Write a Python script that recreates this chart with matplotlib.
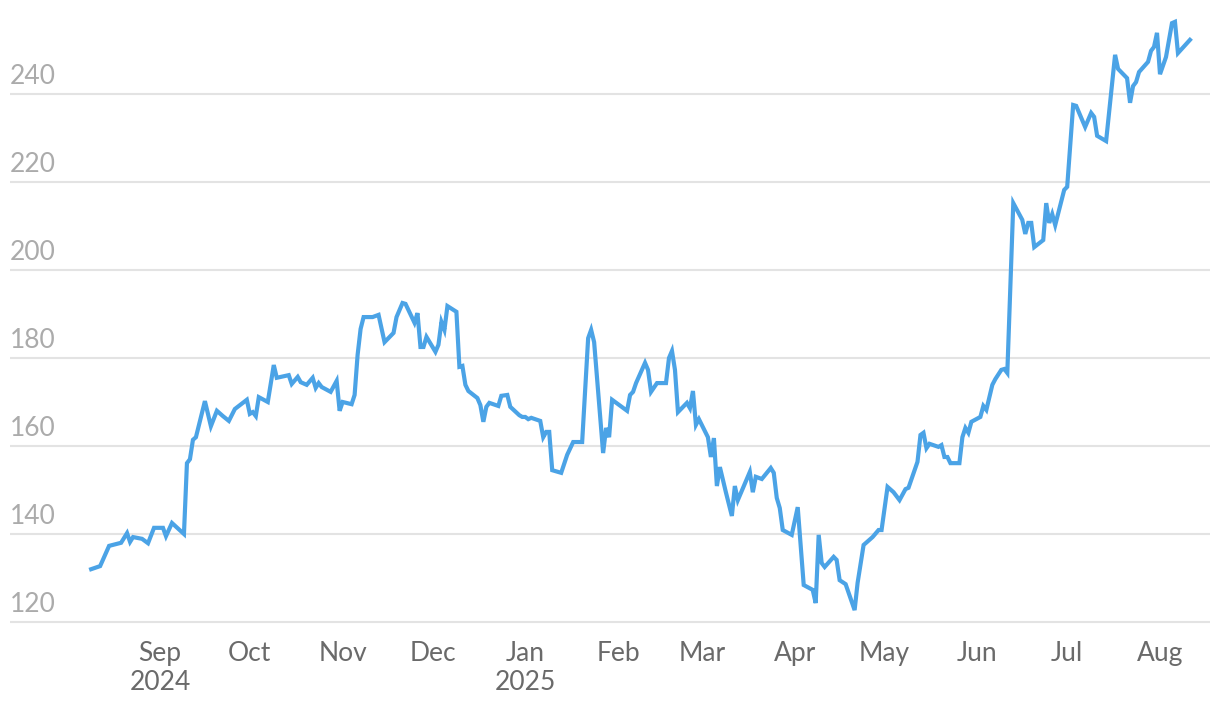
import pandas as pd
import matplotlib.pyplot as plt
import matplotlib.dates as mdates

# daily closing price, Aug 2024 - Aug 2025
dates = [
    '2024-08-09', '2024-08-12', '2024-08-15', '2024-08-19', '2024-08-21', '2024-08-22',
    '2024-08-23', '2024-08-26', '2024-08-28', '2024-08-30', '2024-09-02', '2024-09-03',
    '2024-09-05', '2024-09-09', '2024-09-10', '2024-09-11', '2024-09-12', '2024-09-13',
    '2024-09-16', '2024-09-18', '2024-09-20', '2024-09-22', '2024-09-24', '2024-09-26',
    '2024-09-30', '2024-10-01', '2024-10-02', '2024-10-03', '2024-10-04', '2024-10-07',
    '2024-10-09', '2024-10-10', '2024-10-14', '2024-10-15', '2024-10-17', '2024-10-18',
    '2024-10-20', '2024-10-22', '2024-10-23', '2024-10-24', '2024-10-25', '2024-10-28',
    '2024-10-30', '2024-10-31', '2024-11-01', '2024-11-04', '2024-11-05', '2024-11-06',
    '2024-11-07', '2024-11-08', '2024-11-11', '2024-11-13', '2024-11-15', '2024-11-18',
    '2024-11-19', '2024-11-21', '2024-11-22', '2024-11-25', '2024-11-26', '2024-11-27',
    '2024-11-28', '2024-11-29', '2024-12-02', '2024-12-03', '2024-12-04', '2024-12-05',
    '2024-12-06', '2024-12-09', '2024-12-10', '2024-12-11', '2024-12-12', '2024-12-13',
    '2024-12-16', '2024-12-17', '2024-12-18', '2024-12-19', '2024-12-20', '2024-12-23',
    '2024-12-24', '2024-12-26', '2024-12-27', '2024-12-30', '2024-12-31', '2025-01-01',
    '2025-01-02', '2025-01-03', '2025-01-06', '2025-01-07', '2025-01-08', '2025-01-09',
    '2025-01-10', '2025-01-13', '2025-01-15', '2025-01-17', '2025-01-20', '2025-01-22',
    '2025-01-23', '2025-01-24', '2025-01-27', '2025-01-28', '2025-01-29', '2025-01-30',
    '2025-02-04', '2025-02-05', '2025-02-06', '2025-02-07', '2025-02-10', '2025-02-11',
    '2025-02-12', '2025-02-14', '2025-02-17', '2025-02-18', '2025-02-19', '2025-02-20',
    '2025-02-21', '2025-02-24', '2025-02-25', '2025-02-26', '2025-02-27', '2025-02-28',
    '2025-03-03', '2025-03-04', '2025-03-05', '2025-03-06', '2025-03-07', '2025-03-09',
    '2025-03-11', '2025-03-12', '2025-03-13', '2025-03-17', '2025-03-18', '2025-03-19',
    '2025-03-21', '2025-03-24', '2025-03-25', '2025-03-26', '2025-03-27', '2025-03-28',
    '2025-03-31', '2025-04-02', '2025-04-04', '2025-04-07', '2025-04-08', '2025-04-09',
    '2025-04-10', '2025-04-11', '2025-04-14', '2025-04-15', '2025-04-16', '2025-04-18',
    '2025-04-21', '2025-04-22', '2025-04-24', '2025-04-27', '2025-04-29', '2025-04-30',
    '2025-05-02', '2025-05-04', '2025-05-06', '2025-05-08', '2025-05-09', '2025-05-12',
    '2025-05-13', '2025-05-14', '2025-05-15', '2025-05-16', '2025-05-19', '2025-05-20',
    '2025-05-21', '2025-05-22', '2025-05-23', '2025-05-26', '2025-05-27', '2025-05-28',
    '2025-05-29', '2025-05-30', '2025-06-02', '2025-06-03', '2025-06-04', '2025-06-06',
    '2025-06-07', '2025-06-09', '2025-06-10', '2025-06-11', '2025-06-13', '2025-06-16',
    '2025-06-17', '2025-06-18', '2025-06-19', '2025-06-20', '2025-06-23', '2025-06-24',
    '2025-06-25', '2025-06-26', '2025-06-27', '2025-06-30', '2025-07-01', '2025-07-03',
    '2025-07-04', '2025-07-07', '2025-07-09', '2025-07-10', '2025-07-11', '2025-07-14',
    '2025-07-17', '2025-07-18', '2025-07-21', '2025-07-22', '2025-07-23', '2025-07-24',
    '2025-07-25', '2025-07-28', '2025-07-29', '2025-07-30', '2025-07-31', '2025-08-01',
    '2025-08-03', '2025-08-05', '2025-08-06', '2025-08-07', '2025-08-11',
]
prices = [
    132.0, 132.7, 137.3, 138.0, 140.2, 138.2,
    139.3, 138.9, 137.9, 141.4, 141.4, 139.5,
    142.5, 140.0, 156.1, 157.0, 161.4, 162.0,
    170.2, 164.5, 168.0, 166.8, 165.7, 168.4,
    170.5, 167.3, 167.7, 166.8, 171.1, 170.0,
    178.4, 175.5, 176.1, 174.1, 175.7, 174.5,
    173.9, 175.5, 173.2, 174.3, 173.4, 172.3,
    174.8, 168.0, 170.0, 169.5, 171.6, 180.7,
    186.6, 189.3, 189.3, 189.8, 183.6, 185.7,
    189.3, 192.5, 192.3, 188.0, 190.2, 182.5,
    182.5, 184.8, 181.4, 183.0, 188.2, 186.4,
    191.8, 190.5, 178.0, 178.2, 173.9, 172.5,
    170.9, 169.3, 165.5, 168.9, 169.8, 169.1,
    171.4, 171.6, 168.9, 167.0, 166.6, 166.6,
    166.1, 166.4, 165.7, 162.0, 163.2, 163.2,
    154.5, 153.9, 158.0, 160.9, 160.9, 184.5,
    186.4, 183.6, 158.4, 164.1, 162.0, 170.5,
    168.0, 171.6, 172.3, 174.3, 178.9, 177.3,
    172.3, 174.3, 174.3, 180.0, 181.6, 177.3,
    167.7, 169.8, 168.6, 172.5, 164.8, 166.1,
    162.0, 157.5, 161.8, 150.9, 155.2, 149.5,
    144.1, 150.9, 147.7, 154.1, 149.5, 153.0,
    152.5, 155.0, 153.9, 148.2, 145.9, 140.9,
    139.8, 146.1, 128.4, 127.3, 124.3, 139.8,
    133.4, 132.5, 134.8, 134.1, 129.5, 128.6,
    122.7, 128.9, 137.5, 139.3, 140.9, 140.9,
    150.7, 149.5, 147.7, 150.2, 150.5, 156.4,
    162.5, 163.0, 159.5, 160.5, 159.8, 160.2,
    157.5, 157.5, 156.1, 156.1, 162.0, 164.1,
    163.0, 165.5, 166.6, 169.1, 168.2, 173.9,
    175.2, 177.3, 177.5, 176.6, 215.2, 211.4,
    208.2, 210.7, 210.7, 205.2, 206.8, 215.2,
    210.7, 212.7, 210.2, 218.2, 218.9, 237.5,
    237.3, 232.5, 235.7, 234.8, 230.5, 229.3,
    248.9, 245.7, 243.6, 238.0, 241.8, 242.7,
    245.0, 247.3, 249.8, 250.7, 253.9, 244.5,
    248.4, 256.1, 256.4, 249.3, 252.3,
]

month_ticks = ['2024-09-01', '2024-10-01', '2024-11-01', '2024-12-01', '2025-01-01',
               '2025-02-01', '2025-03-01', '2025-04-01', '2025-05-01', '2025-06-01',
               '2025-07-01', '2025-08-01']
month_labels = ['Sep\n2024', 'Oct', 'Nov', 'Dec', 'Jan\n2025', 'Feb', 'Mar', 'Apr',
                'May', 'Jun', 'Jul', 'Aug']
y_ticks = [120, 140, 160, 180, 200, 220, 240]

df = pd.DataFrame({'date': pd.to_datetime(dates), 'price': prices})

plt.rcParams['font.family'] = ['Lato', 'DejaVu Sans']

fig = plt.figure(figsize=(12.2, 7.12), dpi=100)
ax = fig.add_axes([10 / 1220, 78 / 712, 1200 / 1220, 624 / 712])

ax.plot(df['date'], df['price'], color='#4ba3e6', linewidth=3.0,
        solid_joinstyle='miter', zorder=3)

sep1 = mdates.date2num(pd.Timestamp('2024-09-01'))
aug1 = mdates.date2num(pd.Timestamp('2025-08-01'))
ax.set_xlim(sep1 - 50.1, aug1 + 16.7)
ax.set_ylim(117.27, 259.09)

ax.set_yticks(y_ticks)
ax.set_yticklabels([])
ax.grid(axis='y', color='#e3e3e3', linewidth=1.5)
ax.set_axisbelow(True)
for v in y_ticks:
    ax.annotate(str(v), xy=(0, v), xycoords=('axes fraction', 'data'),
                xytext=(0, 7), textcoords='offset points',
                ha='left', va='baseline', fontsize=19, color='#ababab')

ax.set_xticks(pd.to_datetime(month_ticks))
ax.set_xticklabels(month_labels, fontsize=19, color='#6a6a6a', linespacing=1.22)
ax.tick_params(axis='both', length=0)
ax.tick_params(axis='x', pad=5)

for s in ax.spines.values():
    s.set_visible(False)

fig.savefig('out.png', dpi=100)
